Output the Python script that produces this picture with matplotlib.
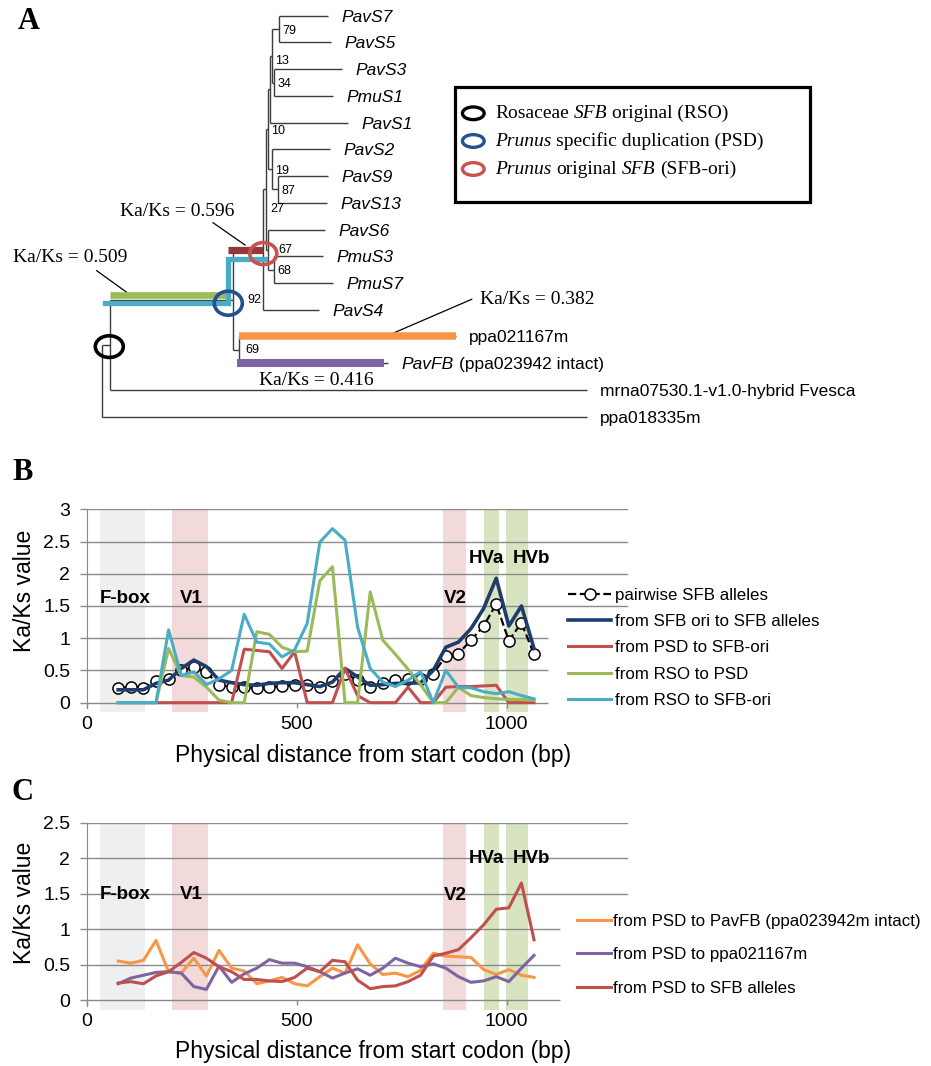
"""Figure: SFB gene tree (A) and sliding-window Ka/Ks profiles (B, C)."""

import numpy as np
import matplotlib.pyplot as plt
from matplotlib.patches import Ellipse, Rectangle

plt.rcParams['font.family'] = ['Liberation Sans', 'DejaVu Sans']
SERIF = ['Liberation Serif', 'DejaVu Serif']

# ---------------------------------------------------------------- panel A data
leaf_names = ["PavS7", "PavS5", "PavS3", "PmuS1", "PavS1", "PavS2", "PavS9",
              "PavS13", "PavS6", "PmuS3", "PmuS7", "PavS4", "ppa021167m",
              "PavFB", "mrna07530.1-v1.0-hybrid Fvesca", "ppa018335m"]
leaf_italic = [True] * 12 + [False, True, False, False]
leaf_suffix = {"PavFB": "(ppa023942 intact)"}
# tip of each leaf branch (tree drawn in panel pixels)
leaf_tip_x = [328, 331, 341.7, 332.7, 348.3, 330, 328.3, 326.7, 325, 323.3,
              333.3, 319.3, 455.7, 388, 586.7, 586.7]
ROW0, ROW_STEP = 15.7, 26.73

# internal nodes, children first: (name, x, children, bootstrap)
tree_nodes = [
    ("n79", 279.0, ["PavS7", "PavS5"], "79"),
    ("n34", 274.0, ["PavS3", "PmuS1"], "34"),
    ("n13", 271.7, ["n79", "n34"], "13"),
    ("nA", 269.5, ["n13", "PavS1"], ""),
    ("n87", 278.3, ["PavS9", "PavS13"], "87"),
    ("n19", 271.7, ["PavS2", "n87"], "19"),
    ("n10", 268.0, ["nA", "n19"], "10"),
    ("n68", 274.0, ["PmuS3", "PmuS7"], "68"),
    ("n67", 268.3, ["PavS6", "n68"], "67"),
    ("n27", 266.0, ["n10", "n67"], "27"),
    ("ori", 263.3, ["n27", "PavS4"], ""),
    ("n69", 239.3, ["ppa021167m", "PavFB"], "69"),
    ("psd", 233.3, ["ori", "n69"], "92"),
    ("rso", 110.0, ["psd", "mrna07530.1-v1.0-hybrid Fvesca"], ""),
    ("root", 101.7, ["rso", "ppa018335m"], ""),
]
support_nudge = {"13": (3.5, 5), "27": (4, 20), "67": (10, 0), "92": (14, 0), "69": (6, 0)}

kaks_text = ["Ka/Ks = 0.596", "Ka/Ks = 0.509", "Ka/Ks = 0.382", "Ka/Ks = 0.416"]
# legend lines as (text, italic) pieces
node_legend = [[("Rosaceae", False), ("SFB", True), ("original (RSO)", False)],
               [("Prunus", True), ("specific duplication (PSD)", False)],
               [("Prunus", True), ("original", False), ("SFB", True), ("(SFB-ori)", False)]]
node_colors = ["black", "#24508f", "#c9524f"]

# ---------------------------------------------------------------- panel B/C data
window_mid = [75, 105, 135, 165, 195, 225, 255, 285, 315, 345, 375, 405, 435,
              465, 495, 525, 555, 585, 615, 645, 675, 705, 735, 765, 795, 825,
              855, 885, 915, 945, 975, 1005, 1035, 1065]

pairwise_sfb = [0.23, 0.24, 0.23, 0.34, 0.37, 0.50, 0.55, 0.47, 0.27, 0.25,
                0.24, 0.23, 0.24, 0.26, 0.28, 0.28, 0.24, 0.34, 0.45, 0.35,
                0.24, 0.31, 0.35, 0.36, 0.37, 0.45, 0.72, 0.76, 0.97, 1.19,
                1.53, 0.96, 1.24, 0.75]
ori_to_alleles = [0.20, 0.20, 0.20, 0.30, 0.35, 0.53, 0.66, 0.56, 0.35, 0.31,
                  0.28, 0.27, 0.30, 0.31, 0.31, 0.28, 0.25, 0.32, 0.53, 0.40,
                  0.27, 0.28, 0.30, 0.30, 0.31, 0.50, 0.86, 0.94, 1.15, 1.46,
                  1.93, 1.19, 1.50, 0.84]
psd_to_ori = [0, 0, 0, 0, 0, 0, 0, 0, 0, 0, 0.83, 0.81, 0.79, 0.53, 0.79, 0,
              0, 0, 0.53, 0.11, 0, 0, 0, 0.24, 0, 0, 0.24, 0.25, 0.25, 0.26,
              0.27, 0, 0, 0]
rso_to_psd = [0, 0, 0, 0, 0.84, 0.42, 0.40, 0.24, 0.04, 0, 0, 1.10, 1.06, 0.86,
              0.79, 0.80, 1.89, 2.11, 0, 0, 1.72, 0.97, 0.75, 0.52, 0.28, 0, 0,
              0.24, 0.11, 0.08, 0.06, 0.05, 0.05, 0.04]
rso_to_ori = [0, 0, 0, 0, 1.13, 0.42, 0.48, 0.28, 0.37, 0.50, 1.37, 0.94, 0.91,
              0.71, 0.82, 1.23, 2.49, 2.70, 2.52, 1.17, 0.53, 0.32, 0.25, 0.35,
              0.48, 0, 0.50, 0.24, 0.23, 0.17, 0.14, 0.17, 0.11, 0.06]

psd_to_pavfb = [0.55, 0.52, 0.56, 0.84, 0.40, 0.38, 0.59, 0.34, 0.70, 0.45,
                0.41, 0.23, 0.27, 0.32, 0.23, 0.20, 0.33, 0.45, 0.38, 0.78,
                0.51, 0.36, 0.38, 0.33, 0.42, 0.66, 0.62, 0.61, 0.60, 0.43,
                0.36, 0.43, 0.35, 0.32]
psd_to_ppa021167 = [0.23, 0.31, 0.35, 0.39, 0.40, 0.38, 0.19, 0.15, 0.48, 0.25,
                    0.37, 0.45, 0.57, 0.52, 0.52, 0.47, 0.40, 0.31, 0.38, 0.44,
                    0.35, 0.45, 0.59, 0.52, 0.47, 0.51, 0.45, 0.33, 0.25, 0.27,
                    0.33, 0.26, 0.45, 0.63]
psd_to_alleles = [0.24, 0.26, 0.23, 0.34, 0.40, 0.53, 0.67, 0.59, 0.47, 0.40,
                  0.29, 0.29, 0.27, 0.26, 0.32, 0.45, 0.40, 0.56, 0.54, 0.28,
                  0.16, 0.19, 0.20, 0.26, 0.35, 0.62, 0.66, 0.71, 0.88, 1.06,
                  1.28, 1.30, 1.65, 0.85]

regions = ["F-box", "V1", "V2", "HVa", "HVb"]
region_start = [32, 204, 849, 946, 998]
region_end = [139, 288, 902, 982, 1050]
region_color = ["#efefef", "#f1dad9", "#f1dad9", "#d8e4bf", "#d8e4bf"]
region_label_x = [91, 248, 877, 951, 1059]
region_label_y_b = [1.61, 1.61, 1.61, 2.23, 2.23]
region_label_y_c = [1.49, 1.49, 1.48, 2.0, 2.0]

GRID = "#8a8a8a"
W, H = 931, 1066

fig = plt.figure(figsize=(W / 100, H / 100), dpi=100)


def fx(px):
    return px / W


def fy(py):
    return 1 - py / H


# ================================================================ panel A
ax = fig.add_axes([0, fy(460), 1, 460 / H])
ax.set_xlim(0, W)
ax.set_ylim(460, 0)
ax.axis("off")

pos = {}
for i, (name, tip) in enumerate(zip(leaf_names, leaf_tip_x)):
    pos[name] = (tip, ROW0 + i * ROW_STEP)
parent_x = {}
tree_kw = dict(color="#3c3c3c", lw=1.0, solid_capstyle="butt", zorder=2)
for name, x, kids, sup in tree_nodes:
    ys = [pos[k][1] for k in kids]
    pos[name] = (x, float(np.mean(ys)))
    for k in kids:
        parent_x[k] = x
    ax.plot([x, x], [min(ys), max(ys)], **tree_kw)
for name, (x, y) in pos.items():
    if name in parent_x:
        ax.plot([parent_x[name], x], [y, y], **tree_kw)

for name, x, kids, sup in tree_nodes:
    if sup:
        dx, dy = support_nudge.get(sup, (3.5, 1.5))
        ax.text(x + dx, pos[name][1] + dy, sup, fontsize=9, ha="left",
                va="center", zorder=6)

for name, ital in zip(leaf_names, leaf_italic):
    x, y = pos[name]
    t = ax.text(x + 13.5, y + 1.5, name, fontsize=12.5, va="center",
                ha="left", style="italic" if ital else "normal")
    if name in leaf_suffix:
        ax.annotate(leaf_suffix[name], xy=(1, 0.5), xycoords=t,
                    xytext=(3.5, 0), textcoords="offset points",
                    fontsize=12.5, va="center", ha="left")

# coloured branches
rso, psd, ori, n69 = pos["rso"], pos["psd"], pos["ori"], pos["n69"]
ax.plot([rso[0], psd[0] - 6.6], [psd[1] - 5, psd[1] - 5], color="#9bbb59",
        lw=4.8, solid_capstyle="butt", zorder=3)
ax.plot([rso[0] - 5, psd[0] - 5, psd[0] - 5, ori[0] + 2],
        [psd[1] + 3.5, psd[1] + 3.5, ori[1] + 9.5, ori[1] + 9.5],
        color="#4bacc6", lw=3.8, solid_joinstyle="miter", zorder=3)
ax.plot([psd[0] - 5.6, ori[0]], [ori[1], ori[1]], color="#953735", lw=5.2,
        solid_capstyle="butt", zorder=3)
ax.plot([n69[0], pos["ppa021167m"][0]], [pos["ppa021167m"][1]] * 2,
        color="#f79646", lw=5.4, solid_capstyle="butt", zorder=3)
ax.plot([n69[0] - 2, pos["PavFB"][0] - 4], [pos["PavFB"][1]] * 2,
        color="#8064a2", lw=5.8, solid_capstyle="butt", zorder=3)

for (cx, cy), col, w, h in [((rso[0] - 0.7, rso[1] + 1.8), node_colors[0], 28, 21.7),
                            ((psd[0] - 5, psd[1] + 3.5), node_colors[1], 28, 24),
                            ((ori[0], ori[1] + 4), node_colors[2], 27, 22)]:
    ax.add_patch(Ellipse((cx, cy), w, h, fill=False, ec=col, lw=2.6, zorder=5))

# Ka/Ks callouts
ax.text(177.5, 211.7, kaks_text[0], family=SERIF, fontsize=14, ha="center", va="center")
ax.plot([213, 245], [222.7, 245], color="black", lw=0.9)
ax.text(70.5, 257.3, kaks_text[1], family=SERIF, fontsize=14, ha="center", va="center")
ax.plot([96.7, 126.7], [270.7, 292.3], color="black", lw=0.9)
ax.text(537, 299, kaks_text[2], family=SERIF, fontsize=14, ha="center", va="center")
ax.plot([471.7, 385], [299.3, 336.7], color="black", lw=0.9)
ax.text(316.8, 380.7, kaks_text[3], family=SERIF, fontsize=14, ha="center", va="center")

# node legend
ax.add_patch(Rectangle((455, 86.7), 355, 115, fill=False, ec="black", lw=2.3))
for pieces, col, ly in zip(node_legend, node_colors, [113.3, 141, 169]):
    ax.add_patch(Ellipse((473.3, ly), 21.7, 12.7, fill=False, ec=col, lw=2.4))
    t = None
    for txt, ital in pieces:
        style = "italic" if ital else "normal"
        if t is None:
            t = ax.text(495, ly, txt, family=SERIF, fontsize=14, style=style,
                        va="center", ha="left")
        else:
            t = ax.annotate(txt, xy=(1, 0.5), xycoords=t, xytext=(3.5, 0),
                            textcoords="offset points", family=SERIF,
                            fontsize=14, style=style, va="center", ha="left")


# ================================================================ panels B, C
def setup(ax, top_val, label_y, short_xmax):
    ax.set_xlim(0, 1288)
    ax.set_ylim(-0.14, top_val)
    for s0, s1, c in zip(region_start, region_end, region_color):
        ax.axvspan(s0, s1, color=c, lw=0, zorder=0)
    yt = np.arange(0, top_val + 0.01, 0.5)
    for v in yt:
        ax.hlines(v, 0, short_xmax if v <= 1.0 else 1288, color=GRID, lw=1.0, zorder=1)
    for name, lx, ly in zip(regions, region_label_x, label_y):
        ax.text(lx, ly, name, fontsize=13.5, weight="bold", ha="center",
                va="center", zorder=10)
    for s in ("top", "right"):
        ax.spines[s].set_visible(False)
    ax.spines["left"].set_color(GRID)
    ax.spines["left"].set_bounds(-0.09, top_val)
    ax.spines["bottom"].set_position(("data", 0))
    ax.spines["bottom"].set_visible(False)
    ax.set_yticks(yt)
    ax.set_yticklabels([f"{v:g}" for v in yt])
    ax.set_xticks([0, 500, 1000])
    ax.tick_params(axis="y", length=4.8, color=GRID, width=1.0, pad=7, labelsize=14)
    ax.tick_params(axis="x", length=3.6, color=GRID, width=1.0, pad=6, labelsize=14)
    ax.set_xlabel("Physical distance from start codon (bp)", fontsize=16.5)
    ax.xaxis.set_label_coords(0.529, -0.16)
    ax.set_ylabel("Ka/Ks value", fontsize=16.5)
    ax.patch.set_alpha(0)


# panel B
axb = fig.add_axes([fx(86.7), fy(711.7), 541 / W, 202.4 / H])
setup(axb, 3, region_label_y_b, 1098)
axb.yaxis.set_label_coords(-0.094, 0.597)
axb.plot(window_mid, pairwise_sfb, ls="--", color="black", lw=1.6, marker="o",
         ms=8, mfc="white", mec="black", mew=1.1, label="pairwise SFB alleles", zorder=3)
axb.plot(window_mid, ori_to_alleles, color="#1f3d6b", lw=2.6,
         label="from SFB ori to SFB alleles", zorder=4)
axb.plot(window_mid, psd_to_ori, color="#c0504d", lw=2.2,
         label="from PSD to SFB-ori", zorder=5)
axb.plot(window_mid, rso_to_psd, color="#9bbb59", lw=2.2,
         label="from RSO to PSD", zorder=6)
axb.plot(window_mid, rso_to_ori, color="#4bacc6", lw=2.2,
         label="from RSO to SFB-ori", zorder=7)
axb.legend(loc="upper left", bbox_to_anchor=(fx(568), fy(588)),
           bbox_transform=fig.transFigure, frameon=False, fontsize=12.2,
           handlelength=2.55, handletextpad=0.25, labelspacing=0.66,
           borderpad=0, borderaxespad=0)

# panel C
axc = fig.add_axes([fx(86.7), fy(1010), 541 / W, 187.3 / H])
setup(axc, 2.5, region_label_y_c, 1127)
axc.yaxis.set_label_coords(-0.094, 0.571)
axc.plot(window_mid, psd_to_pavfb, color="#f79646", lw=2.2,
         label="from PSD to PavFB (ppa023942m intact)", zorder=3)
axc.plot(window_mid, psd_to_ppa021167, color="#8064a2", lw=2.2,
         label="from PSD to ppa021167m", zorder=4)
axc.plot(window_mid, psd_to_alleles, color="#c0504d", lw=2.2,
         label="from PSD to SFB alleles", zorder=5)
axc.legend(loc="upper left", bbox_to_anchor=(fx(577), fy(914)),
           bbox_transform=fig.transFigure, frameon=False, fontsize=12.2,
           handlelength=2.0, handletextpad=0.15, labelspacing=1.08,
           borderpad=0, borderaxespad=0)

# panel letters
for letter, (px, py) in zip("ABC", [(29, 21.7), (22.5, 472), (22.5, 792)]):
    fig.text(fx(px), fy(py), letter, family=SERIF, weight="bold", fontsize=22,
             ha="center", va="center")

fig.savefig("out.png", dpi=100)
